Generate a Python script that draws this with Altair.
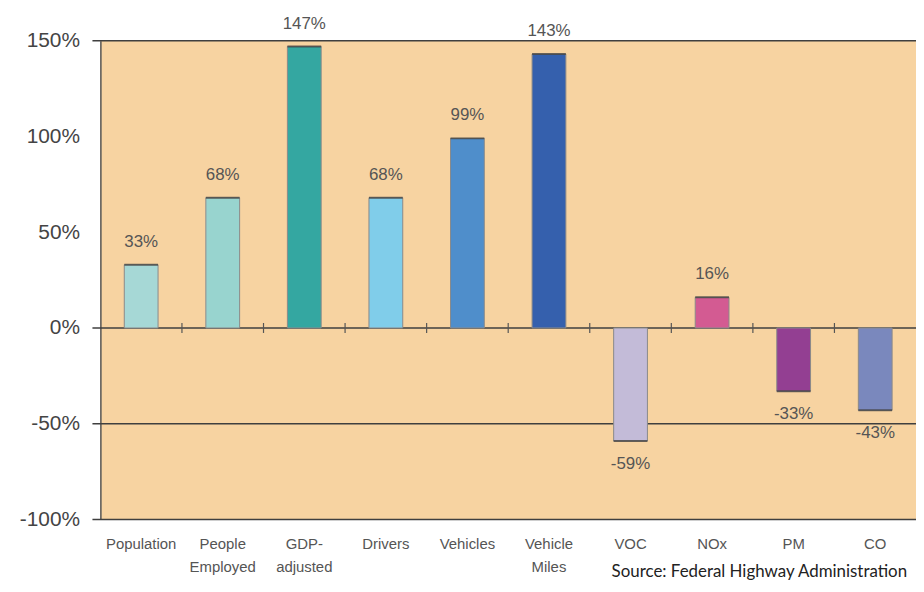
import altair as alt
import pandas as pd

categories = ["Population", "People Employed", "GDP-adjusted for inflation", "Drivers",
              "Vehicles", "Vehicle Miles", "VOC", "NOx", "PM", "CO"]
values = [33, 68, 147, 68, 99, 143, -59, 16, -33, -43]
colors = ["#a6d8d6", "#98d4cf", "#34a7a1", "#80cdea", "#4f8ecb", "#3560ad",
          "#c3bbd8", "#d35b92", "#933f92", "#7a88bd"]
y_ticks = [150, 100, 50, 0, -50, -100]
line_values = [150, 0, -50, -100]
source_text = "Source:  Federal Highway Administration"

df = pd.DataFrame({"cat": categories, "val": values})
df["lbl"] = [f"{v}%" for v in values]
lines_df = pd.DataFrame({"v": line_values})
bounds_df = pd.DataFrame({"cat": categories[:-1]})

W, H = 821, 482
yscale = alt.Scale(domain=[-100, 150], nice=False, zero=False)
xscale = alt.Scale(domain=categories, paddingInner=0, paddingOuter=0)

label_expr = ("split(datum.label == 'GDP-adjusted for inflation' ? 'GDP-|adjusted|for inflation' "
              ": replace(datum.label, ' ', '|'), '|')")

x_enc = alt.X("cat:N", scale=xscale, sort=categories, title=None,
              axis=alt.Axis(labelAngle=0, labelAlign="center", labelExpr=label_expr,
                            ticks=False, domain=False,
                            labelPadding=17, labelFontSize=15, labelColor="#555555",
                            labelFont="Liberation Sans", labelLineHeight=23,
                            labelBaseline="top"))

base = alt.Chart(df)

bars = base.mark_bar(size=34, stroke="#8a8a8a", strokeWidth=1).encode(
    x=x_enc,
    y=alt.Y("val:Q", scale=yscale, title=None,
            axis=alt.Axis(values=y_ticks, format="d", labelExpr="datum.value + '%'",
                          ticks=False, grid=False, domain=True, domainColor="#555555",
                          domainWidth=1.5, labelPadding=21, labelFontSize=21,
                          labelColor="#444444", labelFont="Liberation Sans")),
    color=alt.Color("cat:N", scale=alt.Scale(domain=categories, range=colors), legend=None),
)

ends = base.mark_tick(size=34, thickness=2, color="#3a3a3a").encode(
    x=alt.X("cat:N", scale=xscale, sort=categories),
    y=alt.Y("val:Q", scale=yscale),
)

hlines = alt.Chart(lines_df).mark_rule(color="#3f3f3f", strokeWidth=1.5).encode(
    x=alt.value(-8), x2=alt.value(W),
    y=alt.Y("v:Q", scale=yscale),
)

cat_ticks = alt.Chart(bounds_df).mark_rule(color="#555555", strokeWidth=1.2).encode(
    x=alt.X("cat:N", scale=xscale, sort=categories, bandPosition=1),
    y=alt.datum(-2.6), y2=alt.datum(2.6),
)

pos_text = base.transform_filter("datum.val >= 0").mark_text(
    dy=-23, baseline="middle", fontSize=17, color="#555555", font="Liberation Sans"
).encode(x=alt.X("cat:N", scale=xscale, sort=categories),
         y=alt.Y("val:Q", scale=yscale), text="lbl:N")

neg_text = base.transform_filter("datum.val < 0").mark_text(
    dy=23, baseline="middle", fontSize=17, color="#555555", font="Liberation Sans"
).encode(x=alt.X("cat:N", scale=xscale, sort=categories),
         y=alt.Y("val:Q", scale=yscale), text="lbl:N")

source = alt.Chart(pd.DataFrame({"t": [source_text]})).mark_text(
    align="right", baseline="middle", fontSize=17, color="#222222", font="Lato"
).encode(x=alt.value(812), y=alt.value(535), text="t:N")

chart = alt.layer(hlines, cat_ticks, bars, ends, pos_text, neg_text, source).properties(
    width=W, height=H,
    autosize=alt.AutoSizeParams(type="none"),
    padding={"left": 93, "top": 31, "right": 0, "bottom": 63},
    background="white",
).configure_view(fill="#f7d3a1", stroke=None)

chart.save("out.html", embed_options={"renderer": "svg", "actions": False})
